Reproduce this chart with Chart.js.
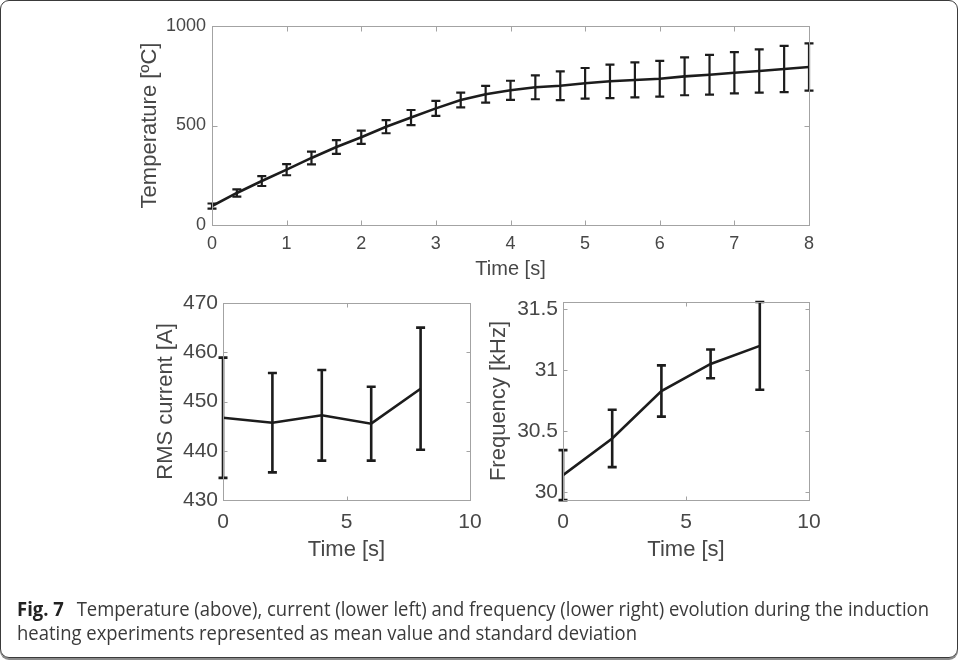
<!DOCTYPE html>
<html>
<head>
<meta charset="utf-8">
<script src="https://cdn.jsdelivr.net/npm/chart.js@4.4.1/dist/chart.umd.min.js"></script>
<style>
  html, body { margin: 0; padding: 0; background: #fff; }
  #fig { position: relative; width: 958px; height: 660px; overflow: hidden; }
  #fig canvas { position: absolute; left: 0; }
  #border {
    position: absolute; left: 0; top: 0; width: 958px; height: 658px;
    box-sizing: border-box; border: 1px solid #3a3a3a; border-radius: 9px;
    box-shadow: 0 2px 0 #8a8a8a; pointer-events: none;
  }
  #caption {
    position: absolute; left: 17px; top: 597px;
    font-family: "Open Sans", "Noto Sans", sans-serif; font-size: 20px; line-height: 24px;
    color: #3a3a3a; white-space: nowrap; transform-origin: 0 0;
  }
  #caption b { color: #222; margin-right: 14px; }
</style>
</head>
<body>
<div id="fig">
  <canvas id="tempChart" width="958" height="290" style="top:0"></canvas>
  <canvas id="currentChart" width="958" height="300" style="top:290px"></canvas>
  <canvas id="freqChart" width="958" height="300" style="top:290px"></canvas>
  <div id="caption"><span id="capLine1"><b>Fig. 7</b>Temperature (above), current (lower left) and frequency (lower right) evolution during the induction</span><br><span>heating experiments represented as mean value and standard deviation</span></div>
  <div id="border"></div>
</div>
<script>
// temperature, 25 samples every 1/3 s
const tempTime = [0, 0.333, 0.667, 1, 1.333, 1.667, 2, 2.333, 2.667, 3, 3.333, 3.667, 4,
  4.333, 4.667, 5, 5.333, 5.667, 6, 6.333, 6.667, 7, 7.333, 7.667, 8];
const tempMean = [95, 161, 221, 278, 337, 392, 441, 494, 540, 586, 628, 657, 677,
  692, 700, 712, 722, 729, 735, 747, 755, 765, 774, 784, 794];
const tempErr = [13, 18, 25, 28, 32, 35, 33, 33, 38, 38, 37, 42, 48,
  60, 72, 77, 84, 88, 90, 95, 100, 104, 109, 116, 119];
const tempXTicks = [0, 1, 2, 3, 4, 5, 6, 7, 8];
const tempYTicks = [0, 500, 1000];

// RMS current and frequency, every 2 s
const sampleTime = [0, 2, 4, 6, 8];
const currentMean = [446.7, 445.7, 447.2, 445.5, 452.6];
const currentErr = [12.2, 10.1, 9.2, 7.5, 12.4];
const freqMean = [30.136, 30.437, 30.826, 31.048, 31.196];
const freqErr = [0.205, 0.235, 0.21, 0.118, 0.36];
const lowerXTicks = [0, 5, 10];
const currentYTicks = [430, 440, 450, 460, 470];
const freqYTicks = [30, 30.5, 31, 31.5];

const FONT = "'Liberation Sans', Arial, sans-serif";
const TEXT = "#474747";
const AXIS = "#a3a3a3";
const INK = "#1c1c1c";

const errorBars = {
  id: "errorBars",
  afterDatasetsDraw(chart, args, opts) {
    const { ctx, scales } = chart;
    const ds = chart.data.datasets[0];
    const meta = chart.getDatasetMeta(0);
    ctx.save();
    ctx.strokeStyle = INK;
    ctx.lineWidth = opts.width;
    meta.data.forEach((pt, i) => {
      const v = ds.data[i].y;
      const top = scales.y.getPixelForValue(v + opts.err[i]);
      const bot = scales.y.getPixelForValue(v - opts.err[i]);
      ctx.beginPath();
      ctx.moveTo(pt.x, top); ctx.lineTo(pt.x, bot);
      ctx.moveTo(pt.x - opts.cap, top); ctx.lineTo(pt.x + opts.cap, top);
      ctx.moveTo(pt.x - opts.cap, bot); ctx.lineTo(pt.x + opts.cap, bot);
      ctx.stroke();
    });
    ctx.restore();
  }
};

// matlab style box with inward ticks on all four sides
const frame = {
  id: "frame",
  afterDraw(chart, args, opts) {
    const { ctx, chartArea: a, scales } = chart;
    const L = Math.round(a.left) + 0.5, R = Math.round(a.right) + 0.5;
    const T = Math.round(a.top) + 0.5, B = Math.round(a.bottom) + 0.5;
    ctx.save();
    ctx.strokeStyle = AXIS;
    ctx.lineWidth = 1;
    ctx.strokeRect(L, T, R - L, B - T);
    ctx.beginPath();
    scales.x.ticks.forEach((t) => {
      const px = Math.round(scales.x.getPixelForValue(t.value)) + 0.5;
      ctx.moveTo(px, B); ctx.lineTo(px, B - opts.tick);
      ctx.moveTo(px, T); ctx.lineTo(px, T + opts.tick);
    });
    scales.y.ticks.forEach((t) => {
      const py = Math.round(scales.y.getPixelForValue(t.value)) + 0.5;
      ctx.moveTo(L, py); ctx.lineTo(L + opts.tick, py);
      ctx.moveTo(R, py); ctx.lineTo(R - opts.tick, py);
    });
    ctx.stroke();
    ctx.restore();
  }
};

function panel(canvasId, s) {
  return new Chart(document.getElementById(canvasId), {
    type: "line",
    data: {
      datasets: [{
        data: s.x.map((t, i) => ({ x: t, y: s.y[i] })),
        borderColor: INK,
        borderWidth: s.lineWidth,
        pointRadius: 0,
        tension: 0,
        fill: false
      }]
    },
    options: {
      responsive: false,
      animation: false,
      events: [],
      layout: { padding: s.padding },
      plugins: {
        legend: { display: false },
        tooltip: { enabled: false },
        errorBars: { err: s.err, cap: s.cap, width: s.barWidth },
        frame: { tick: s.tick }
      },
      scales: {
        x: {
          type: "linear", min: s.xMin, max: s.xMax,
          grid: { display: false, drawTicks: false }, border: { display: false },
          afterBuildTicks: (sc) => { sc.ticks = s.xTicks.map((v) => ({ value: v })); },
          afterFit: (sc) => { sc.height = s.xHeight; sc.paddingLeft = 0; sc.paddingRight = 0; },
          ticks: { autoSkip: false, maxRotation: 0, padding: s.xTickPad, color: TEXT,
            font: { family: FONT, size: s.tickSize }, callback: (v) => String(v) },
          title: { display: true, text: "Time [s]", color: TEXT,
            font: { family: FONT, size: s.xTitleSize }, padding: { top: 0, bottom: s.xTitlePad } }
        },
        y: {
          type: "linear", min: s.yMin, max: s.yMax,
          grid: { display: false, drawTicks: false }, border: { display: false },
          afterBuildTicks: (sc) => { sc.ticks = s.yTicks.map((v) => ({ value: v })); },
          afterFit: (sc) => { sc.width = s.yWidth; sc.paddingTop = 0; sc.paddingBottom = 0; },
          ticks: { autoSkip: false, padding: s.yTickPad, color: TEXT,
            font: { family: FONT, size: s.tickSize }, callback: (v) => String(v) },
          title: { display: true, text: s.yTitle, color: TEXT,
            font: { family: FONT, size: s.yTitleSize }, padding: { top: s.yTitlePad, bottom: 0 } }
        }
      }
    },
    plugins: [errorBars, frame]
  });
}

panel("tempChart", {
  x: tempTime, y: tempMean, err: tempErr, xTicks: tempXTicks, yTicks: tempYTicks,
  xMin: 0, xMax: 8, yMin: 0, yMax: 1000, yTitle: "Temperature [ºC]",
  padding: { left: 130, right: 149, top: 26, bottom: 0 },
  yWidth: 82, xHeight: 65, tickSize: 18, xTitleSize: 20, yTitleSize: 22,
  xTickPad: 8, xTitlePad: 9, yTickPad: 6, yTitlePad: 7,
  lineWidth: 2.6, barWidth: 2.2, cap: 4.5, tick: 5
});

panel("currentChart", {
  x: sampleTime, y: currentMean, err: currentErr, xTicks: lowerXTicks, yTicks: currentYTicks,
  xMin: 0, xMax: 10, yMin: 430, yMax: 470, yTitle: "RMS current [A]",
  padding: { left: 140, right: 488, top: 13, bottom: 0 },
  yWidth: 83, xHeight: 90, tickSize: 21, xTitleSize: 22, yTitleSize: 22,
  xTickPad: 10, xTitlePad: 27, yTickPad: 5, yTitlePad: 13,
  lineWidth: 2.6, barWidth: 2.6, cap: 4.5, tick: 4
});

panel("freqChart", {
  x: sampleTime, y: freqMean, err: freqErr, xTicks: lowerXTicks, yTicks: freqYTicks,
  xMin: 0, xMax: 10, yMin: 29.932, yMax: 31.556, yTitle: "Frequency [kHz]",
  padding: { left: 480, right: 149, top: 12, bottom: 0 },
  yWidth: 83, xHeight: 90, tickSize: 21, xTitleSize: 22, yTitleSize: 22,
  xTickPad: 10, xTitlePad: 27, yTickPad: 5, yTitlePad: 6,
  lineWidth: 2.6, barWidth: 2.6, cap: 4.5, tick: 4
});

// squeeze the caption to the width of the original first line
const caption = document.getElementById("caption");
const line1 = document.getElementById("capLine1");
caption.style.transform = "scaleX(" + (912 / line1.getBoundingClientRect().width) + ")";
</script>
</body>
</html>
